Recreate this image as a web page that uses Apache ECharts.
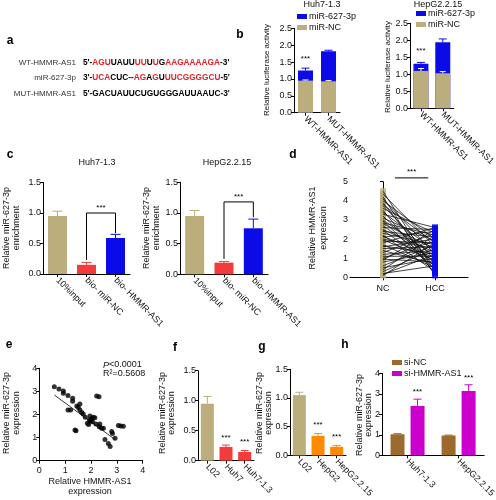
<!DOCTYPE html>
<html><head><meta charset="utf-8">
<script src="https://cdn.jsdelivr.net/npm/echarts@6/dist/echarts.min.js"></script>
<style>html,body{margin:0;padding:0;background:#fff}#c{width:496px;height:500px}</style>
</head><body><div id="c"></div>
<script>
// ---------------- DATA ----------------
// panel b: luciferase activity
const bCats = ['WT-HMMR-AS1', 'MUT-HMMR-AS1'];
const bHuhMir = [1.25, 1.82];   const bHuhMirErr = [0.07, 0.03];
const bHuhNC  = [0.95, 0.93];   const bHuhNCErr  = [0.02, 0.02];
const bHepMir = [1.31, 1.94];   const bHepMirErr = [0.04, 0.10];
const bHepNC  = [1.10, 1.03];   const bHepNCErr  = [0.07, 0.05];
const bStarHuh = 1.47, bStarHep = 1.58;
// panel c: enrichment
const cCats = ['10%input', 'bio- miR-NC', 'bio- HMMR-AS1'];
const cHuh = [0.95, 0.15, 0.59];  const cHuhErr = [0.08, 0.04, 0.06];
const cHep = [0.95, 0.19, 0.75];  const cHepErr = [0.09, 0.02, 0.15];
// bracket: [x1, x2, top, leftBottom, rightBottom]
const cHuhBracket = [1, 2, 1.0, 0.23, 0.67];
const cHepBracket = [1, 2, 1.18, 0.25, 0.93];
// panel d: paired NC / HCC
const dCats = ['NC', 'HCC'];
const dNC  = [4.5,4.35,4.2,4.1,4.0,3.9,3.8,3.75,3.6,3.5,3.4,3.3,3.2,3.1,3.0,2.95,2.85,2.8,2.7,2.6,2.5,2.45,2.4,2.3,2.2,2.15,2.1,2.0,1.95,1.9,1.8,1.7,1.65,1.6,1.5,1.4,1.3,1.2,1.1,1.0,0.95,0.9,0.8,0.6,0.5,0.4,0.3,0.2,0.15,0.1];
const dHCC = [0.3,1.6,0.1,1.2,2.0,0.5,1.8,0.9,2.3,0.2,1.4,2.6,0.7,1.9,1.1,0.4,2.2,1.5,0.8,2.5,1.3,0.6,2.1,1.7,0.3,1.0,2.4,1.5,0.9,1.8,2.6,0.5,1.2,2.0,1.6,0.7,2.3,1.4,1.1,1.9,0.8,2.5,1.3,1.7,1.0,2.2,1.5,0.6,1.2,1.8];
const dBracket = [0.23, 0.87, 5.2];
// panel e: correlation
const eX = [0.58,0.76,0.93,0.93,1.11,1.11,1.21,1.29,1.29,1.38,1.42,1.45,1.51,1.57,1.57,1.64,1.70,1.78,1.86,1.94,1.96,2.03,2.09,2.15,2.06,1.99,2.22,2.31,2.19,2.32,2.41,2.34,2.54,2.67,2.74,2.80,2.83,2.93,3.06,3.15,3.25,1.91,2.48];
const eY = [3.20,3.10,3.02,2.92,2.82,2.19,2.19,2.70,2.57,1.33,1.30,2.37,2.30,2.45,2.19,2.09,2.02,1.88,1.62,1.76,1.93,1.83,1.88,1.86,1.69,1.72,2.80,2.77,1.59,1.47,1.40,1.59,0.92,0.75,0.61,1.26,1.18,0.97,1.52,1.50,1.49,1.57,1.40];
const eFitSlope = -0.82, eFitIntercept = 3.32, eFitRange = [0.58, 2.93];
// panel f
const fCats = ['L02', 'Huh7', 'Huh7-1.3'];
const fVals = [0.95, 0.23, 0.145]; const fErr = [0.12, 0.03, 0.025];
const fStars = [null, 0.32, 0.25];
// panel g
const gCats = ['L02', 'HepG2', 'HepG2.2.15'];
const gVals = [1.05, 0.34, 0.15]; const gErr = [0.05, 0.04, 0.02];
const gStars = [null, 0.47, 0.25];
// panel h
const hCats = ['Huh7-1.3', 'HepG2.2.15'];
const hNC = [1.03, 0.97];   const hNCErr = [0.03, 0.02];
const hSi = [2.41, 3.14];   const hSiErr = [0.33, 0.30];
const hStars = [2.91, 3.57];

// ---------------- STYLE ----------------
const TAN = '#bcad7c', BLUE = '#0b0be8', RED = '#f23c3c', ORANGE = '#ff8a00', MAG = '#cc00cc', BROWN = '#9c6a2e', SEQRED = '#e8202a';
const FONT = '"Liberation Sans", Arial, sans-serif';

const chart = echarts.init(document.getElementById('c'), null, {renderer: 'canvas'});

const grids = [
  {left: 294, top: 28.3, width: 46, height: 84.4},     // 0 b Huh
  {left: 410, top: 23.3, width: 50, height: 85},       // 1 b Hep
  {left: 43, top: 182.5, width: 87, height: 91.5},     // 2 c Huh
  {left: 180, top: 182.3, width: 88, height: 92},      // 3 c Hep
  {left: 350, top: 181.7, width: 118, height: 95.6},   // 4 d
  {left: 39.3, top: 368.3, width: 103.4, height: 92.4},// 5 e
  {left: 198, top: 370.7, width: 56, height: 90},      // 6 f
  {left: 290, top: 369.3, width: 56, height: 90.7},    // 7 g
  {left: 382, top: 373.3, width: 111, height: 85.7}    // 8 h
];

const f1 = v => v.toFixed(1);
function yAx(gi, min, max, interval, fmt) {
  return {type: 'value', gridIndex: gi, min, max, interval,
    axisLine: {show: true, lineStyle: {color: '#000', width: 1}},
    axisTick: {show: true, length: 3, lineStyle: {color: '#000'}},
    axisLabel: {fontSize: 9, color: '#111', margin: 2, fontFamily: FONT, formatter: fmt},
    splitLine: {show: false}};
}
function xCat(gi, data, rotate, margin) {
  return {type: 'category', gridIndex: gi, data,
    axisLine: {show: true, onZero: false, lineStyle: {color: '#000', width: 1}},
    axisTick: {show: true, alignWithLabel: true, length: 3, lineStyle: {color: '#000'}},
    axisLabel: {fontSize: 9, color: '#111', rotate: rotate, margin: margin, fontFamily: FONT, interval: 0},
    splitLine: {show: false}};
}

function errSeries(gi, vals, errs, color, offset, cap) {
  return {type: 'custom', xAxisIndex: gi, yAxisIndex: gi, z: 5, silent: true,
    data: vals.map((v, i) => [i, v, errs[i]]),
    renderItem: (params, api) => {
      const x = api.value(0), v = api.value(1), e = api.value(2);
      const p0 = api.coord([x, v]), p1 = api.coord([x, v + e]);
      const cx = p0[0] + (offset || 0);
      return {type: 'group', children: [
        {type: 'line', shape: {x1: cx, y1: p0[1], x2: cx, y2: p1[1]}, style: {stroke: color, lineWidth: 1}},
        {type: 'line', shape: {x1: cx - cap, y1: p1[1], x2: cx + cap, y2: p1[1]}, style: {stroke: color, lineWidth: 1}}
      ]};
    }};
}
function starSeries(gi, pts, offset) {
  return {type: 'custom', xAxisIndex: gi, yAxisIndex: gi, z: 6, silent: true, clip: false,
    data: pts.map((v, i) => v == null ? null : [i, v]).filter(d => d),
    renderItem: (params, api) => {
      const p = api.coord([api.value(0), api.value(1)]);
      return {type: 'text', style: {text: '***', x: p[0] + (offset || 0), y: p[1], textAlign: 'center', textVerticalAlign: 'bottom', fontSize: 8, fontFamily: FONT, fill: '#000'}};
    }};
}
function bracketSeries(gi, b) {
  return {type: 'custom', xAxisIndex: gi, yAxisIndex: gi, z: 6, silent: true, clip: false,
    data: [b],
    renderItem: (params, api) => {
      const x1 = api.value(0), x2 = api.value(1), t = api.value(2), lb = api.value(3), rb = api.value(4);
      const a = api.coord([x1, lb]), b1 = api.coord([x1, t]), c = api.coord([x2, t]), d = api.coord([x2, rb]);
      return {type: 'group', children: [
        {type: 'polyline', shape: {points: [a, b1, c, d]}, style: {stroke: '#000', lineWidth: 1, fill: null}},
        {type: 'text', style: {text: '***', x: (b1[0] + c[0]) / 2, y: b1[1] - 1, textAlign: 'center', textVerticalAlign: 'bottom', fontSize: 8, fontFamily: FONT, fill: '#000'}}
      ]};
    }};
}
function barSeries(gi, name, vals, color, width, extra) {
  return Object.assign({type: 'bar', name, xAxisIndex: gi, yAxisIndex: gi, data: vals, barWidth: width,
    itemStyle: {color}, silent: true}, extra || {});
}

const xAxes = [
  xCat(0, bCats, -45, 5),
  xCat(1, bCats, -45, 5),
  xCat(2, cCats, -45, 5),
  xCat(3, cCats, -45, 5),
  {type: 'value', gridIndex: 4, min: -0.635, max: 1.635,
    axisLine: {show: true, onZero: false, lineStyle: {color: '#000'}},
    axisTick: {show: true, length: 3, customValues: [0, 1], lineStyle: {color: '#000'}},
    axisLabel: {fontSize: 9, color: '#111', margin: 7, fontFamily: FONT, customValues: [0, 1], formatter: v => dCats[Math.round(v)]},
    splitLine: {show: false}},
  {type: 'value', gridIndex: 5, min: 0, max: 4, interval: 1,
    axisLine: {show: true, onZero: false, lineStyle: {color: '#000'}},
    axisTick: {show: true, length: 3, lineStyle: {color: '#000'}},
    axisLabel: {fontSize: 9, color: '#111', margin: 5, fontFamily: FONT},
    splitLine: {show: false}},
  xCat(6, fCats, -45, 5),
  xCat(7, gCats, -45, 5),
  xCat(8, hCats, -45, 5)
];
const yAxes = [
  yAx(0, 0, 2.5, 0.5, f1),
  yAx(1, 0, 2.5, 0.5, f1),
  yAx(2, 0, 1.5, 0.5, f1),
  yAx(3, 0, 1.5, 0.5, f1),
  yAx(4, 0, 5, 1),
  yAx(5, 0, 4, 1),
  yAx(6, 0, 1.5, 0.5, f1),
  yAx(7, 0, 1.5, 0.5, f1),
  yAx(8, 0, 4, 1)
];

const series = [
  // b
  barSeries(0, 'miR-627-3p', bHuhMir, BLUE, 15),
  barSeries(0, 'miR-NC', bHuhNC, TAN, 15, {barGap: '-100%'}),
  errSeries(0, bHuhMir, bHuhMirErr, BLUE, 0, 4),
  errSeries(0, bHuhNC, bHuhNCErr, '#ffffff', 0, 3),
  starSeries(0, [bStarHuh, null]),
  barSeries(1, 'miR-627-3p', bHepMir, BLUE, 15),
  barSeries(1, 'miR-NC', bHepNC, TAN, 15, {barGap: '-100%'}),
  errSeries(1, bHepMir, bHepMirErr, BLUE, 0, 4),
  errSeries(1, bHepNC, bHepNCErr, '#ffffff', 0, 3),
  starSeries(1, [bStarHep, null]),
  // c
  barSeries(2, 'cHuh', cHuh, TAN, 19, {data: cHuh.map((v, i) => ({value: v, itemStyle: {color: [TAN, RED, BLUE][i]}}))}),
  {type: 'custom', xAxisIndex: 2, yAxisIndex: 2, z: 5, silent: true, data: cHuh.map((v, i) => [i, v, cHuhErr[i]]),
    renderItem: (p, api) => errSeries(2, cHuh, cHuhErr, [TAN, RED, BLUE][p.dataIndex], 0, 5).renderItem(p, api)},
  bracketSeries(2, cHuhBracket),
  barSeries(3, 'cHep', cHep, TAN, 19, {data: cHep.map((v, i) => ({value: v, itemStyle: {color: [TAN, RED, BLUE][i]}}))}),
  {type: 'custom', xAxisIndex: 3, yAxisIndex: 3, z: 5, silent: true, data: cHep.map((v, i) => [i, v, cHepErr[i]]),
    renderItem: (p, api) => errSeries(3, cHep, cHepErr, [TAN, RED, BLUE][p.dataIndex], 0, 5).renderItem(p, api)},
  bracketSeries(3, cHepBracket),
  // d
  {type: 'scatter', xAxisIndex: 4, yAxisIndex: 4, z: 2, silent: true, symbol: 'rect', symbolSize: 6,
    itemStyle: {color: TAN}, data: dNC.map(v => [0, v])},
  {type: 'custom', xAxisIndex: 4, yAxisIndex: 4, z: 3, silent: true,
    encode: {x: [0, 2], y: [1, 3]},
    data: dNC.map((v, i) => [0, v, 1, dHCC[i]]),
    renderItem: (p, api) => {
      const a = api.coord([api.value(0), api.value(1)]), b = api.coord([api.value(2), api.value(3)]);
      return {type: 'line', shape: {x1: a[0], y1: a[1], x2: b[0], y2: b[1]}, style: {stroke: '#111', lineWidth: 0.8}};
    }},
  {type: 'scatter', xAxisIndex: 4, yAxisIndex: 4, z: 4, silent: true, symbol: 'rect', symbolSize: 6,
    itemStyle: {color: BLUE}, data: dHCC.map(v => [1, v])},
  {type: 'custom', xAxisIndex: 4, yAxisIndex: 4, z: 6, silent: true, clip: false, data: [dBracket],
    renderItem: (p, api) => {
      const a = api.coord([api.value(0), api.value(2)]), b = api.coord([api.value(1), api.value(2)]);
      return {type: 'group', children: [
        {type: 'line', shape: {x1: a[0], y1: a[1], x2: b[0], y2: b[1]}, style: {stroke: '#000', lineWidth: 1}},
        {type: 'text', style: {text: '***', x: (a[0] + b[0]) / 2, y: a[1] - 2, textAlign: 'center', textVerticalAlign: 'bottom', fontSize: 8, fontFamily: FONT, fill: '#000'}}
      ]};
    }},
  // e
  {type: 'scatter', xAxisIndex: 5, yAxisIndex: 5, silent: true, symbol: 'circle', symbolSize: 5,
    itemStyle: {color: '#000'}, data: eX.map((x, i) => [x, eY[i]])},
  {type: 'line', xAxisIndex: 5, yAxisIndex: 5, silent: true, symbol: 'none',
    lineStyle: {color: '#000', width: 0.8},
    data: eFitRange.map(x => [x, eFitSlope * x + eFitIntercept])},
  // f
  barSeries(6, 'f', fVals, TAN, 13, {data: fVals.map((v, i) => ({value: v, itemStyle: {color: i === 0 ? TAN : RED}}))}),
  {type: 'custom', xAxisIndex: 6, yAxisIndex: 6, z: 5, silent: true, data: fVals.map((v, i) => [i, v, fErr[i]]),
    renderItem: (p, api) => errSeries(6, fVals, fErr, p.dataIndex === 0 ? TAN : RED, 0, 4).renderItem(p, api)},
  starSeries(6, fStars),
  // g
  barSeries(7, 'g', gVals, TAN, 13, {data: gVals.map((v, i) => ({value: v, itemStyle: {color: i === 0 ? TAN : ORANGE}}))}),
  {type: 'custom', xAxisIndex: 7, yAxisIndex: 7, z: 5, silent: true, data: gVals.map((v, i) => [i, v, gErr[i]]),
    renderItem: (p, api) => errSeries(7, gVals, gErr, p.dataIndex === 0 ? TAN : ORANGE, 0, 4).renderItem(p, api)},
  starSeries(7, gStars),
  // h
  barSeries(8, 'si-NC', hNC, BROWN, 14, {barGap: '43%'}),
  barSeries(8, 'si-HMMR-AS1', hSi, MAG, 14),
  errSeries(8, hNC, hNCErr, BROWN, -10, 4),
  errSeries(8, hSi, hSiErr, MAG, 10, 4),
  starSeries(8, hStars, 10)
];

const legendBase = {orient: 'vertical', itemWidth: 10, itemHeight: 5, itemGap: 2, icon: 'rect', selectedMode: false,
  textStyle: {fontSize: 9, color: '#111', fontFamily: FONT, padding: [0, 0, 0, -3]}, padding: 0};
const legends = [
  Object.assign({}, legendBase, {left: 297, top: 12, data: ['miR-627-3p', 'miR-NC']}),
  Object.assign({}, legendBase, {left: 416, top: 9, data: ['miR-627-3p', 'miR-NC']}),
  Object.assign({}, legendBase, {left: 392, top: 358, data: ['si-NC', 'si-HMMR-AS1']})
];

function txt(x, y, text, size, opts) {
  return Object.assign({type: 'text', x, y, silent: true,
    style: Object.assign({text, fontSize: size, fontFamily: FONT, fill: '#111', textAlign: 'center', textVerticalAlign: 'middle'}, (opts && opts.style) || {})},
    (opts && opts.el) || {});
}
function vtxt(x, y, text, size) {
  return txt(x, y, text, size, {el: {rotation: Math.PI / 2}});
}
function letter(x, y, t) {
  return txt(x, y, t, 12, {style: {fontWeight: 'bold', fill: '#000'}});
}
const seqStyle = {fontSize: 8.3, fontWeight: 'bold', fontFamily: FONT};
const rich = {r: Object.assign({fill: SEQRED}, seqStyle), k: Object.assign({fill: '#000'}, seqStyle)};
function seq(y, text) {
  return {type: 'text', x: 83, y, silent: true,
    style: Object.assign({text, rich, textAlign: 'left', textVerticalAlign: 'middle', fill: '#000'}, seqStyle)};
}
function lab(y, text) {
  return txt(76, y, text, 8, {style: {textAlign: 'right', fill: '#333'}});
}

const graphics = [
  letter(10, 41, 'a'), letter(240, 35, 'b'), letter(10, 155, 'c'), letter(293, 155, 'd'),
  letter(9, 345, 'e'), letter(175, 348, 'f'), letter(262, 347, 'g'), letter(345, 345, 'h'),
  // panel a
  lab(63, 'WT-HMMR-AS1'), lab(78, 'miR-627-3p'), lab(94, 'MUT-HMMR-AS1'),
  seq(63, "{k|5'-}{r|AGU}{k|UAUU}{r|UU}{k|U}{r|U}{k|G}{r|AAGAAAAGA}{k|-3'}"),
  seq(78, "{k|3'-}{r|UCA}{k|CUC--}{r|AG}{k|A}{r|G}{k|U}{r|UUCGGGGCU}{k|-5'}"),
  seq(94, "{k|5'-GACUAUUCUGUGGGAUUAAUC-3'}"),
  // titles
  txt(322, 5, 'Huh7-1.3', 9), txt(438, 5, 'HepG2.2.15', 9),
  txt(97, 163, 'Huh7-1.3', 9), txt(227, 163, 'HepG2.2.15', 9),
  // y titles
  vtxt(267, 70, 'Relative luciferase activity', 8),
  vtxt(388, 67, 'Relative luciferase activity', 8),
  vtxt(7, 228, 'Relative miR-627-3p', 9), vtxt(17, 228, 'enrichment', 9),
  vtxt(147, 228, 'Relative miR-627-3p', 9), vtxt(157, 228, 'enrichment', 9),
  vtxt(313, 228, 'Relative HMMR-AS1', 9), vtxt(324, 228, 'expression', 9),
  vtxt(7, 413, 'Relative miR-627-3p', 9), vtxt(17, 413, 'expression', 9),
  vtxt(163, 413, 'Relative miR-627-3p', 9), vtxt(172, 413, 'expression', 9),
  vtxt(260, 413, 'Relative miR-627-3p', 9), vtxt(269, 413, 'expression', 9),
  vtxt(360, 415, 'Relative miR-627-3p', 9), vtxt(369, 415, 'expression', 9),
  txt(90, 482, 'Relative HMMR-AS1', 9), txt(90, 492, 'expression', 9),
  // e stats
  {type: 'text', x: 103, y: 365, silent: true, style: {text: '{i|P}{n|<0.0001}', textAlign: 'left', textVerticalAlign: 'middle',
    rich: {i: {fontStyle: 'italic', fontSize: 9, fontFamily: FONT, fill: '#111'}, n: {fontSize: 9, fontFamily: FONT, fill: '#111'}}, fontSize: 9, fontFamily: FONT}},
  txt(103, 373.5, 'R²=0.5608', 9, {style: {textAlign: 'left'}})
];

chart.setOption({
  animation: false,
  backgroundColor: '#fff',
  textStyle: {fontFamily: FONT},
  grid: grids,
  xAxis: xAxes,
  yAxis: yAxes,
  legend: legends,
  series,
  graphic: graphics
});
</script>
</body></html>
